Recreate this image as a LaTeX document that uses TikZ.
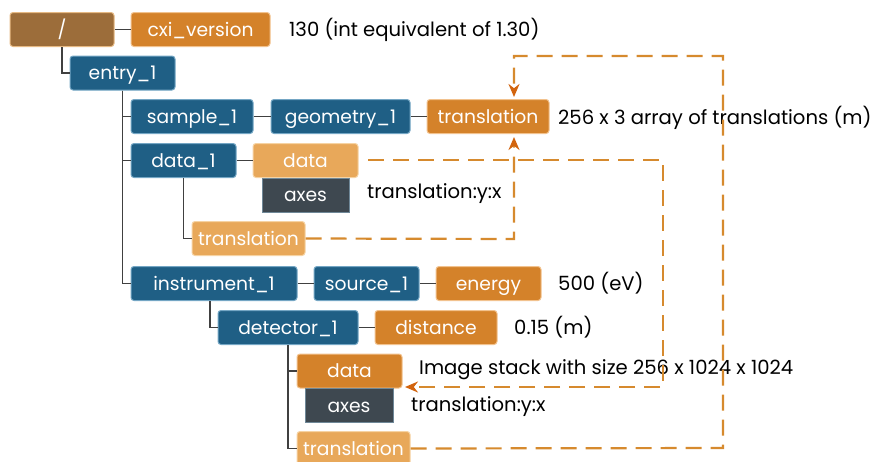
\documentclass[tikz,border=0pt]{standalone}
\usepackage{fontspec}
\setmainfont{Poppins}
\usetikzlibrary{arrows.meta}
\definecolor{cblue}{HTML}{1F5F85}
\definecolor{cbluel}{HTML}{74A6C4}
\definecolor{corange}{HTML}{D4822A}
\definecolor{corangel}{HTML}{F2C28E}
\definecolor{clight}{HTML}{E8A85A}
\definecolor{clightl}{HTML}{F6D3A3}
\definecolor{cbrown}{HTML}{9C6D3A}
\definecolor{cbrownl}{HTML}{E6B983}
\definecolor{caxes}{HTML}{3E4850}
\definecolor{caxesl}{HTML}{6F8898}
\definecolor{cline}{HTML}{404040}
\definecolor{cdash}{HTML}{D68A2E}
\definecolor{carrow}{HTML}{D2640E}
\tikzset{
  box/.style={rectangle, rounded corners=3pt, line width=1pt, inner sep=0pt,
    minimum height=34pt, text=white, text height=16pt, text depth=3pt,
    font=\fontsize{18.7}{22}\selectfont},
  bluebox/.style={box, fill=cblue, draw=cbluel},
  orbox/.style={box, fill=corange, draw=corangel},
  ltbox/.style={box, fill=clight, draw=clightl},
  brbox/.style={box, fill=cbrown, draw=cbrownl},
  axbox/.style={box, rounded corners=0pt, fill=caxes, draw=caxesl},
  lbl/.style={anchor=west, inner sep=0pt, text=black, font=\fontsize{19.6}{23}\selectfont},
  tree/.style={draw=cline, line width=1.6pt},
  dlink/.style={draw=cdash, line width=2.2pt, dash pattern=on 16pt off 9pt,
    -{Stealth[length=13pt,width=11pt,color=carrow]}}
}
\begin{document}
\begin{tikzpicture}[x=1pt,y=-1pt]
\useasboundingbox (0,0) rectangle (873,461);
\clip (0,0) rectangle (873,461);
% nodes
\node[brbox, minimum width=104pt] (root) at (62,29.5) {/};
\node[orbox, minimum width=139pt] (cxi) at (200.5,29.5) {cxi\_version};
\node[lbl] (cxit) at (289,30) {130 (int equivalent of 1.30)};
\node[bluebox, minimum width=105pt] (entry) at (122.5,73) {entry\_1};
\node[bluebox, minimum width=122pt] (sample) at (192,116.5) {sample\_1};
\node[bluebox, minimum width=139pt] (geom) at (340.5,116.5) {geometry\_1};
\node[orbox, minimum width=122pt] (trans) at (488,116.5) {translation};
\node[lbl] (transt) at (558,118) {256 x 3 array of translations (m)};
\node[bluebox, minimum width=105pt] (dataone) at (183.5,160.5) {data\_1};
\node[ltbox, minimum width=105pt] (dataA) at (305.5,160.5) {data};
\node[axbox, minimum width=87pt] (axesA) at (305.5,195) {axes};
\node[lbl] (axesAt) at (367,194) {translation:y:x};
\node[ltbox, minimum width=113pt] (transA) at (248.5,238.5) {translation};
\node[bluebox, minimum width=166pt] (instr) at (214,283.5) {instrument\_1};
\node[bluebox, minimum width=105pt] (source) at (366.5,283.5) {source\_1};
\node[orbox, minimum width=105pt] (energy) at (488.5,283.5) {energy};
\node[lbl] (energyt) at (558,283) {500 (eV)};
\node[bluebox, minimum width=140pt] (det) at (288,327.5) {detector\_1};
\node[orbox, minimum width=122pt] (dist) at (436,327.5) {distance};
\node[lbl] (distt) at (514,327) {0.15 (m)};
\node[orbox, minimum width=105pt] (dataB) at (349.5,371) {data};
\node[axbox, minimum width=88pt] (axesB) at (349,405.5) {axes};
\node[lbl] (dataBt) at (419,370) {Image stack with size 256 x 1024 x 1024};
\node[lbl] (axesBt) at (411,407) {translation:y:x};
\node[ltbox, minimum width=113pt] (transB) at (353.5,448.5) {translation};
% tree lines
\draw[tree] (root.east) -- (cxi.west);
\draw[tree] (root.south) |- (entry.west);
\draw[tree] (entry.south) |- (sample.west);
\draw[tree] (entry.south) |- (dataone.west);
\draw[tree] (entry.south) |- (instr.west);
\draw[tree] (sample.east) -- (geom.west);
\draw[tree] (geom.east) -- (trans.west);
\draw[tree] (dataone.east) -- (dataA.west);
\draw[tree] (dataone.south) |- (transA.west);
\draw[tree] (instr.east) -- (source.west);
\draw[tree] (source.east) -- (energy.west);
\draw[tree] ([xshift=-4pt]instr.south) |- (det.west);
\draw[tree] (det.east) -- (dist.west);
\draw[tree] (det.south) |- (dataB.west);
\draw[tree] (det.south) |- (transB.west);
% dashed links
\coordinate (a0) at (368,160);
\coordinate (a1) at (663,160);
\coordinate (a2) at (663,387);
\coordinate (a3) at (405,387);
\draw[dlink] (a0) -- (a1) -- (a2) -- (a3);
\coordinate (b1) at (514,239);
\coordinate (b2) at (514,137);
\draw[dlink] (transA.east) -- (b1) -- (b2);
\coordinate (c1) at (723,448);
\coordinate (c2) at (723,56);
\coordinate (c3) at (514,56);
\coordinate (c4) at (514,97);
\draw[dlink] (transB.east) -- (c1) -- (c2) -- (c3) -- (c4);
\end{tikzpicture}
\end{document}
